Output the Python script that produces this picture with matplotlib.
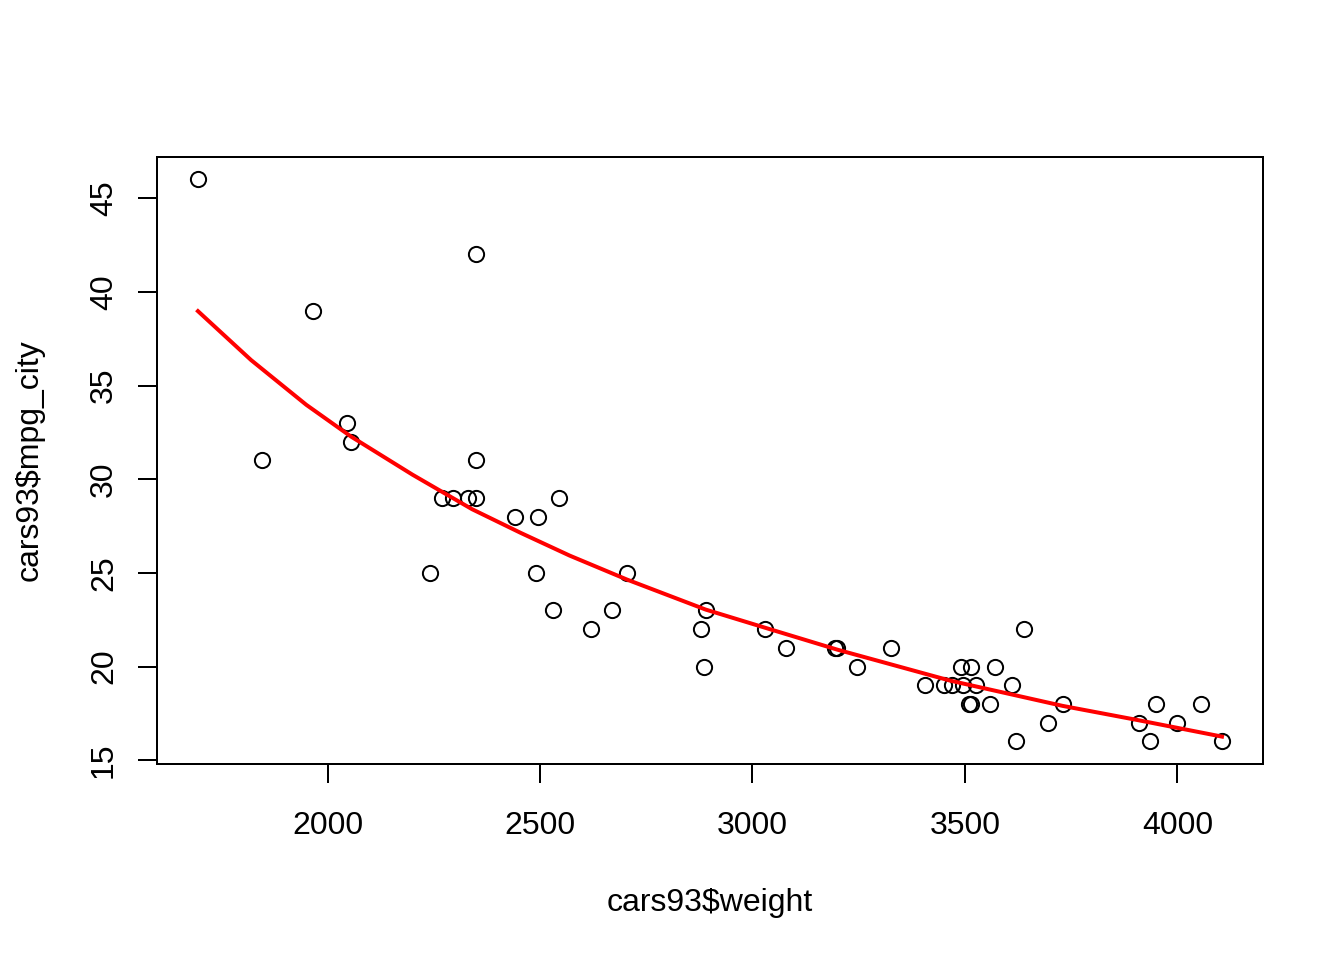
import matplotlib
matplotlib.use('Agg')
import matplotlib.pyplot as plt

plt.rcParams['font.family'] = ['Liberation Sans', 'DejaVu Sans']
plt.rcParams['font.size'] = 12

# cars93: weight vs city mpg
weight = [1695, 1845, 1965, 2045, 2055, 2240, 2270, 2295, 2330, 2350, 2350, 2350,
          2440, 2490, 2495, 2530, 2545, 2620, 2670, 2705, 2880, 2885, 2890, 3030,
          3080, 3195, 3200, 3245, 3325, 3405, 3450, 3470, 3495, 3525, 3490, 3515,
          3510, 3515, 3570, 3610, 3560, 3640, 3620, 3695, 3730, 3910, 3935, 3950,
          4000, 4055, 4105]
mpg_city = [46, 31, 39, 33, 32, 25, 29, 29, 29, 29, 42, 31,
            28, 25, 28, 23, 29, 22, 23, 25, 22, 20, 23, 22,
            21, 21, 21, 20, 21, 19, 19, 19, 19, 19, 20, 20,
            18, 18, 20, 19, 18, 22, 16, 17, 18, 17, 16, 18,
            17, 18, 16]

# fitted curve (red), read at a few weights
fit_weight = [1695, 1820, 1950, 2055, 2200, 2340, 2455, 2570, 2705, 2890,
              3030, 3200, 3465, 3730, 3905, 4105]
fit_mpg = [38.97, 36.36, 33.97, 32.28, 30.24, 28.4, 27.13, 25.92, 24.64, 23.04,
           22.07, 20.9, 19.25, 17.9, 17.15, 16.26]

xticks = [2000, 2500, 3000, 3500, 4000]
yticks = [15, 20, 25, 30, 35, 40, 45]


def main():
    fig = plt.figure(figsize=(7, 5), dpi=192)
    ax = fig.add_axes([0.1168, 0.2042, 0.8229, 0.6323])

    ax.plot(weight, mpg_city, linestyle='none', marker='o', markersize=5.7,
            markerfacecolor='none', markeredgecolor='black', markeredgewidth=0.75)
    ax.plot(fit_weight, fit_mpg, color='#ff0000', linewidth=1.5)

    # R style 4% padding
    xr = max(weight) - min(weight)
    yr = max(mpg_city) - min(mpg_city)
    ax.set_xlim(min(weight) - 0.04 * xr, max(weight) + 0.04 * xr)
    ax.set_ylim(min(mpg_city) - 0.04 * yr, max(mpg_city) + 0.04 * yr)

    ax.set_xticks(xticks)
    ax.set_yticks(yticks)
    ax.tick_params(direction='out', length=7.2, width=0.75, pad=7, labelsize=12)
    ax.tick_params(axis='x', pad=10.5)
    for lab in ax.get_yticklabels():
        lab.set_rotation(90)
        lab.set_va('center')
    for s in ax.spines.values():
        s.set_linewidth(0.75)

    ax.set_xlabel(r'cars93\$weight', va='center')
    ax.xaxis.set_label_coords(0.5, -0.229)
    ax.set_ylabel(r'cars93\$mpg_city', va='center')
    ax.yaxis.set_label_coords(-0.115, 0.5)

    fig.savefig('out.png', dpi=192, facecolor='white')


if __name__ == '__main__':
    main()
